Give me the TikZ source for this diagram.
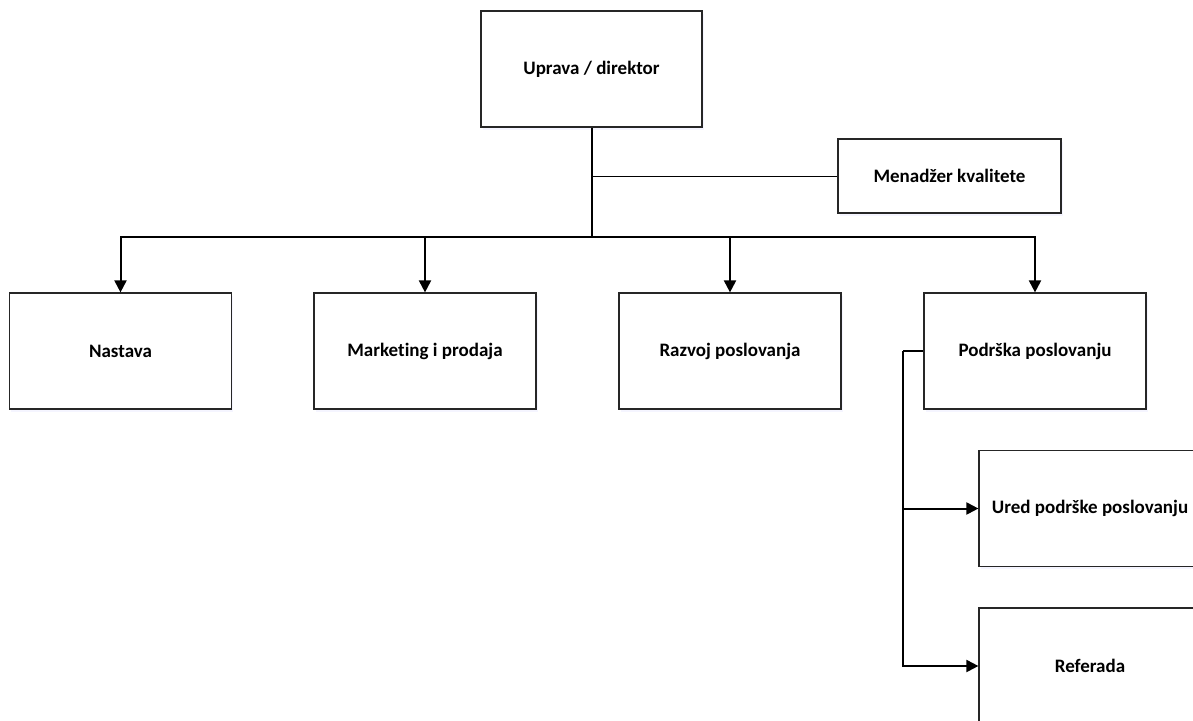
\documentclass[tikz,border=0pt]{standalone}
\usepackage{fontspec}
\setmainfont{Carlito}[Ligatures={NoCommon}]
\usetikzlibrary{arrows.meta,shadows}
\begin{document}
\begin{tikzpicture}[x=1pt,y=-1pt,
  box/.style={draw=black!85, line width=1.2pt, fill=white, inner sep=0pt,
    minimum width=222pt, minimum height=116pt, font=\fontsize{19}{22}\selectfont\bfseries,
    drop shadow={shadow xshift=1.5pt, shadow yshift=-2.5pt, opacity=0.2, fill=blue!20}},
  link/.style={line width=2pt, draw=black},
  arrowlink/.style={link, -{Triangle[width=12pt,length=12pt]}},
  thinlink/.style={line width=1pt, draw=black}]
\useasboundingbox (0,0) rectangle (1193,720);
\node[box, minimum width=221pt] (up) at (591.5,69) {Uprava / direktor};
\node[box, minimum width=223pt, minimum height=74pt] (mk) at (949.5,176) {Menadžer kvalitete};
\node[box] (na) at (120.5,351) {Nastava};
\node[box] (ma) at (425,351) {Marketing i prodaja};
\node[box] (rz) at (730,351) {Razvoj poslovanja};
\node[box] (pd) at (1035,351) {Podrška poslovanju};
\node[box] (ur) at (1090,508.5) {Ured podrške poslovanju};
\node[box] (rf) at (1090,666) {Referada};
\coordinate (bus) at (591.5,237);
\coordinate (pdl) at (903,351);
\draw[thinlink] (up.south |- mk.west) -- (mk.west);
\draw[link] (up.south) -- (bus);
\draw[arrowlink] (bus) -| (na.north);
\draw[arrowlink] (bus) -| (ma.north);
\draw[arrowlink] (bus) -| (rz.north);
\draw[arrowlink] (bus) -| (pd.north);
\draw[link] (pd.west) -- (pdl);
\draw[arrowlink] (pdl) |- (ur.west);
\draw[arrowlink] (pdl) |- (rf.west);
\end{tikzpicture}
\end{document}
